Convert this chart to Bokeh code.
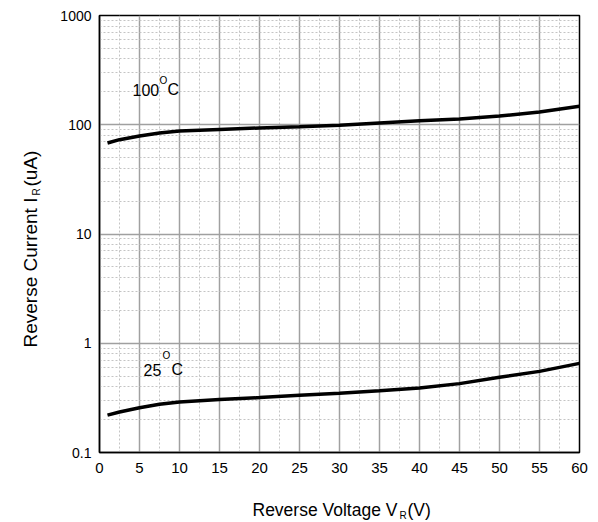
import math
from bokeh.plotting import figure
from bokeh.layouts import row, column
from bokeh.models import FixedTicker, CustomJSTickFormatter, Label, Range1d
from bokeh.embed import file_html
from bokeh.resources import INLINE

# ---- data ----
voltage = [1, 2.5, 5, 7.5, 10, 15, 20, 25, 30, 35, 40, 45, 50, 55, 60]
current_100c = [68, 73, 79, 84, 87.5, 90.6, 93.5, 96, 99, 104, 109, 113, 120, 131, 148]
current_25c = [0.22, 0.235, 0.257, 0.276, 0.29, 0.305, 0.318, 0.334, 0.349, 0.368, 0.39, 0.427, 0.488, 0.553, 0.654]

x_ticks = [0, 5, 10, 15, 20, 25, 30, 35, 40, 45, 50, 55, 60]
x_minor = [2.5, 7.5, 12.5, 17.5, 22.5, 27.5, 32.5, 37.5, 42.5, 47.5, 52.5, 57.5]
y_ticks = [0.1, 1, 10, 100, 1000]
y_minor = [m * d for d in [0.1, 1, 10, 100] for m in range(2, 10)]

FONT = "Liberation Sans"
W, H = 590, 522
YW = 45            # width of the left strip holding the y title
MH = 480           # height of the main figure
FL, FR, FT, FB = 99, 579, 15, 452  # frame edges on the page

p = figure(width=W - YW, height=MH, output_backend="svg", toolbar_location=None,
           y_axis_type="log", x_range=Range1d(0, 60), y_range=Range1d(0.1, 1000),
           min_border_left=FL - YW, min_border_right=W - FR,
           min_border_top=FT, min_border_bottom=MH - FB)

p.outline_line_color = "black"
p.outline_line_width = 1.5
p.background_fill_color = "white"
p.border_fill_color = "white"

p.xaxis.ticker = FixedTicker(ticks=x_ticks, minor_ticks=x_minor)
p.yaxis.ticker = FixedTicker(ticks=y_ticks, minor_ticks=y_minor)
p.yaxis.formatter = CustomJSTickFormatter(code="return tick < 1 ? tick.toFixed(1) : tick.toFixed(0);")

for ax in (p.xaxis, p.yaxis):
    ax.axis_line_color = "black"
    ax.axis_line_width = 1.5
    ax.major_tick_line_color = None
    ax.minor_tick_line_color = None
    ax.major_tick_in = 0
    ax.major_tick_out = 0
    ax.minor_tick_in = 0
    ax.minor_tick_out = 0
    ax.major_label_text_font = FONT
    ax.major_label_text_color = "black"
p.xaxis.major_label_text_font_size = "15px"
p.yaxis.major_label_text_font_size = "14px"
p.xaxis.major_label_standoff = 10
p.yaxis.major_label_standoff = 8

for g in (p.xgrid, p.ygrid):
    g.grid_line_color = "#a0a0a0"
    g.grid_line_width = 1.5
    g.minor_grid_line_color = "#c4c4c4"
    g.minor_grid_line_width = 1
    g.minor_grid_line_dash = "2 2"

p.line(voltage, current_100c, line_color="black", line_width=3.5)
p.line(voltage, current_25c, line_color="black", line_width=3.5)

def lab(fig, text, x, y, size, units="screen", angle=0.0, baseline="alphabetic"):
    fig.add_layout(Label(x=x, y=y, x_units=units, y_units=units,
                         text=text, text_font=FONT, text_font_size=f"{size}px",
                         text_color="black", text_baseline=baseline,
                         text_align="left", angle=angle))

# temperature labels (page px -> frame screen units)
def tlab(text, x, y, size):
    lab(p, text, x - FL, FB - y, size)

tlab("100", 132, 89, 16)
tlab("O", 159, 80, 10)
tlab("C", 167, 89, 16)
tlab("25", 143, 369, 16)
tlab("O", 162, 355, 10)
tlab("C", 171, 369, 16)

# strip below the plot for the x title; its frame lines up with the main frame,
# so data x == page x and data y == H - page y
xf = figure(width=W - YW, height=H - MH, output_backend="svg", toolbar_location=None,
            x_range=Range1d(FL, FR), y_range=Range1d(0, H - MH),
            x_axis_type=None, y_axis_type=None, min_border=0)
xf.outline_line_color = None
xf.grid.visible = False
lab(xf, "Reverse Voltage V", 252, H - 509, 17.5, units="data")
lab(xf, "R", 399, H - 515, 10, units="data")
lab(xf, "(V)", 407, H - 509, 17.5, units="data")

# strip left of the plot for the rotated y title (data x == page x, data y == H - page y)
yf = figure(width=YW, height=H, output_backend="svg", toolbar_location=None,
            x_range=Range1d(0, YW), y_range=Range1d(0, H),
            x_axis_type=None, y_axis_type=None, min_border=0)
yf.outline_line_color = None
yf.grid.visible = False
lab(yf, "Reverse Current I", 30, H - 347, 19, units="data", angle=math.pi / 2)
lab(yf, "R", 35.5, H - 195, 10, units="data", angle=math.pi / 2)
lab(yf, "(uA)", 30, H - 186, 19, units="data", angle=math.pi / 2)

layout = row(yf, column(p, xf, spacing=0), spacing=0)
open("out.html", "w").write(file_html(layout, INLINE))
